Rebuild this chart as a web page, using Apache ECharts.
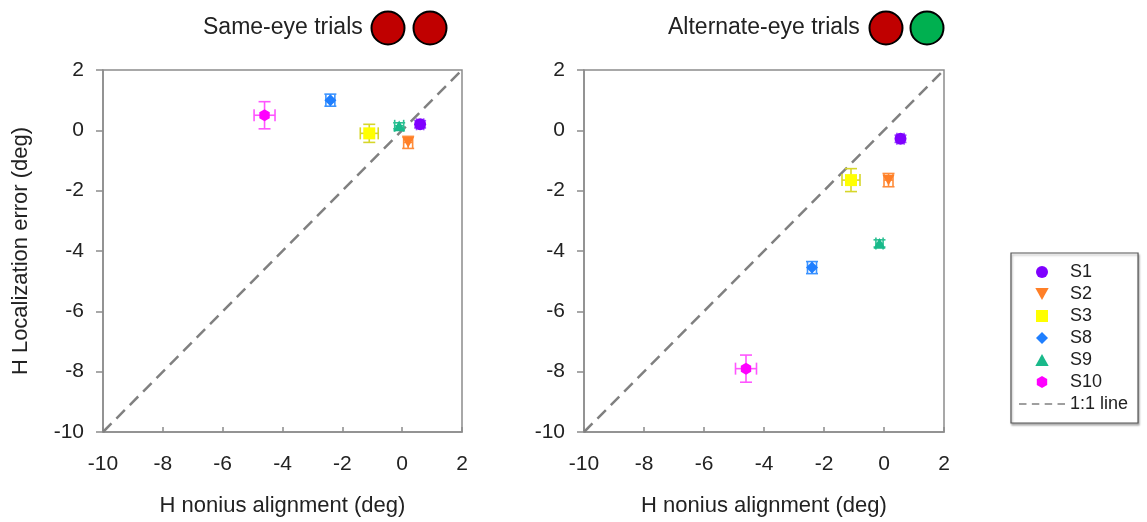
<!DOCTYPE html>
<html>
<head>
<meta charset="utf-8">
<script src="https://cdn.jsdelivr.net/npm/echarts@6/dist/echarts.min.js"></script>
<style>
  html, body { margin: 0; padding: 0; background: #fff; }
  #chart { width: 1147px; height: 522px; }
</style>
</head>
<body>
<div id="chart"></div>
<script>
// subjects and their colours
const subjects = ['S1', 'S2', 'S3', 'S8', 'S9', 'S10']
const colors = ['#7f00ff', '#ff7f27', '#ffff00', '#1f7fff', '#19b98a', '#ff00ff']
const errColors = ['#9b4dff', '#ff8c3a', '#d6d62a', '#3b93ff', '#2cc093', '#ff55ff']
const symbols = [
  'circle',
  'path://M-10,-8L10,-8L0,10Z',
  'path://M-9,-9L9,-9L9,9L-9,9Z',
  'path://M0,-11L11,0L0,11L-11,0Z',
  'path://M0,-10L10,8L-10,8Z',
  'path://M0,-10L8.66,-5L8.66,5L0,10L-8.66,5L-8.66,-5Z'
]
const dashIcon = 'path://M0,0h7v1.5h-7z M12,0h7v1.5h-7z M24,0h7v1.5h-7z M36,0h7v1.5h-7z'

// same-eye trials: [nonius x, localization y]
const sameX = [0.6, 0.2, -1.1, -2.4, -0.1, -4.6]
const sameY = [0.2, -0.4, -0.1, 1.0, 0.15, 0.5]
const sameXErr = [0.12, 0.15, 0.3, 0.15, 0.15, 0.35]
const sameYErr = [0.12, 0.2, 0.3, 0.2, 0.1, 0.45]

// alternate-eye trials
const altX = [0.55, 0.15, -1.1, -2.4, -0.15, -4.6]
const altY = [-0.28, -1.65, -1.65, -4.55, -3.75, -7.9]
const altXErr = [0.12, 0.15, 0.3, 0.15, 0.12, 0.35]
const altYErr = [0.12, 0.22, 0.38, 0.2, 0.12, 0.45]

const ticks = [-10, -8, -6, -4, -2, 0, 2]
const diagonal = [[-10, -10], [2, 2]]

const font = 'Liberation Sans, Arial, sans-serif'
const axisColor = '#8c8c8c'

const chart = echarts.init(document.getElementById('chart'))

function makeAxis(idx, name, isX) {
  return {
    type: 'value',
    gridIndex: idx,
    min: ticks[0],
    max: ticks[ticks.length - 1],
    interval: 2,
    name: name,
    nameLocation: 'middle',
    nameGap: isX ? 63 : 71,
    nameTextStyle: { color: '#222', fontSize: 22, fontFamily: font },
    axisLine: { show: true, onZero: false, lineStyle: { color: axisColor, width: 1.5 } },
    axisTick: { show: true, inside: isX, length: isX ? 5 : 7, lineStyle: { color: axisColor, width: 1.5 } },
    axisLabel: { color: '#222', fontSize: 21, fontFamily: font, margin: isX ? 22 : 19 },
    splitLine: { show: false }
  }
}

function errSeries(grid, xs, ys, xe, ye, i) {
  return {
    type: 'custom',
    xAxisIndex: grid,
    yAxisIndex: grid,
    silent: true,
    z: 3,
    data: [[xs[i], ys[i], xe[i], ye[i]]],
    renderItem: function (params, api) {
      const x = api.value(0), y = api.value(1), dx = api.value(2), dy = api.value(3)
      const l = api.coord([x - dx, y]), r = api.coord([x + dx, y])
      const t = api.coord([x, y + dy]), b = api.coord([x, y - dy])
      const cap = 6
      const style = { stroke: errColors[i], lineWidth: 1.6 }
      const line = (x1, y1, x2, y2) => ({ type: 'line', shape: { x1, y1, x2, y2 }, style })
      return {
        type: 'group',
        children: [
          line(l[0], l[1], r[0], r[1]),
          line(l[0], l[1] - cap, l[0], l[1] + cap),
          line(r[0], r[1] - cap, r[0], r[1] + cap),
          line(t[0], t[1], b[0], b[1]),
          line(t[0] - cap, t[1], t[0] + cap, t[1]),
          line(b[0] - cap, b[1], b[0] + cap, b[1])
        ]
      }
    }
  }
}

const series = []
;[0, 1].forEach(g => {
  const xs = g === 0 ? sameX : altX
  const ys = g === 0 ? sameY : altY
  const xe = g === 0 ? sameXErr : altXErr
  const ye = g === 0 ? sameYErr : altYErr
  series.push({
    name: '1:1 line',
    type: 'line',
    xAxisIndex: g,
    yAxisIndex: g,
    data: diagonal,
    symbol: 'none',
    symbolKeepAspect: true,
    silent: true,
    z: 1,
    lineStyle: { color: '#808080', width: 2.5, type: [12, 7] },
    itemStyle: { color: '#808080' }
  })
  subjects.forEach((s, i) => {
    series.push(errSeries(g, xs, ys, xe, ye, i))
    series.push({
      name: s,
      type: 'scatter',
      xAxisIndex: g,
      yAxisIndex: g,
      data: [[xs[i], ys[i]]],
      symbol: symbols[i],
      symbolSize: 12,
      symbolKeepAspect: true,
      z: 4,
      itemStyle: { color: colors[i], opacity: 1 }
    })
  })
})

const legendData = subjects.map((s, i) => ({ name: s, icon: symbols[i] }))
legendData.push({ name: '1:1 line', icon: dashIcon, itemStyle: { color: '#808080' } })

const option = {
  backgroundColor: '#fff',
  animation: false,
  textStyle: { fontFamily: font },
  grid: [
    { left: 103, top: 70, width: 359, height: 362, show: true, borderColor: axisColor, borderWidth: 1.5, backgroundColor: 'transparent' },
    { left: 584, top: 70, width: 360, height: 362, show: true, borderColor: axisColor, borderWidth: 1.5, backgroundColor: 'transparent' }
  ],
  xAxis: [
    makeAxis(0, 'H nonius alignment (deg)', true),
    makeAxis(1, 'H nonius alignment (deg)', true)
  ],
  yAxis: [
    makeAxis(0, 'H Localization error (deg)', false),
    makeAxis(1, '', false)
  ],
  legend: {
    data: legendData,
    orient: 'vertical',
    left: 1011,
    top: 253,
    itemGap: 4,
    itemWidth: 46,
    itemHeight: 12,
    padding: [10, 10, 10, 8],
    borderColor: '#555',
    borderWidth: 1.2,
    shadowColor: 'rgba(0,0,0,0.3)',
    shadowOffsetX: 1,
    shadowOffsetY: 2,
    shadowBlur: 2,
    backgroundColor: '#fff',
    textStyle: { color: '#222', fontSize: 18, fontFamily: font }
  },
  graphic: [
    { type: 'text', x: 203, y: 28, style: { text: 'Same-eye trials', fontSize: 23, fontFamily: font, fill: '#222', verticalAlign: 'middle' } },
    { type: 'circle', shape: { cx: 388, cy: 28, r: 16.5 }, style: { fill: '#c00000', stroke: '#000', lineWidth: 2 } },
    { type: 'circle', shape: { cx: 430, cy: 28, r: 16.5 }, style: { fill: '#c00000', stroke: '#000', lineWidth: 2 } },
    { type: 'text', x: 668, y: 28, style: { text: 'Alternate-eye trials', fontSize: 23, fontFamily: font, fill: '#222', verticalAlign: 'middle' } },
    { type: 'circle', shape: { cx: 886, cy: 28, r: 16.5 }, style: { fill: '#c00000', stroke: '#000', lineWidth: 2 } },
    { type: 'circle', shape: { cx: 927, cy: 28, r: 16.5 }, style: { fill: '#00b050', stroke: '#000', lineWidth: 2 } }
  ],
  series: series
}

chart.setOption(option)
</script>
</body>
</html>
